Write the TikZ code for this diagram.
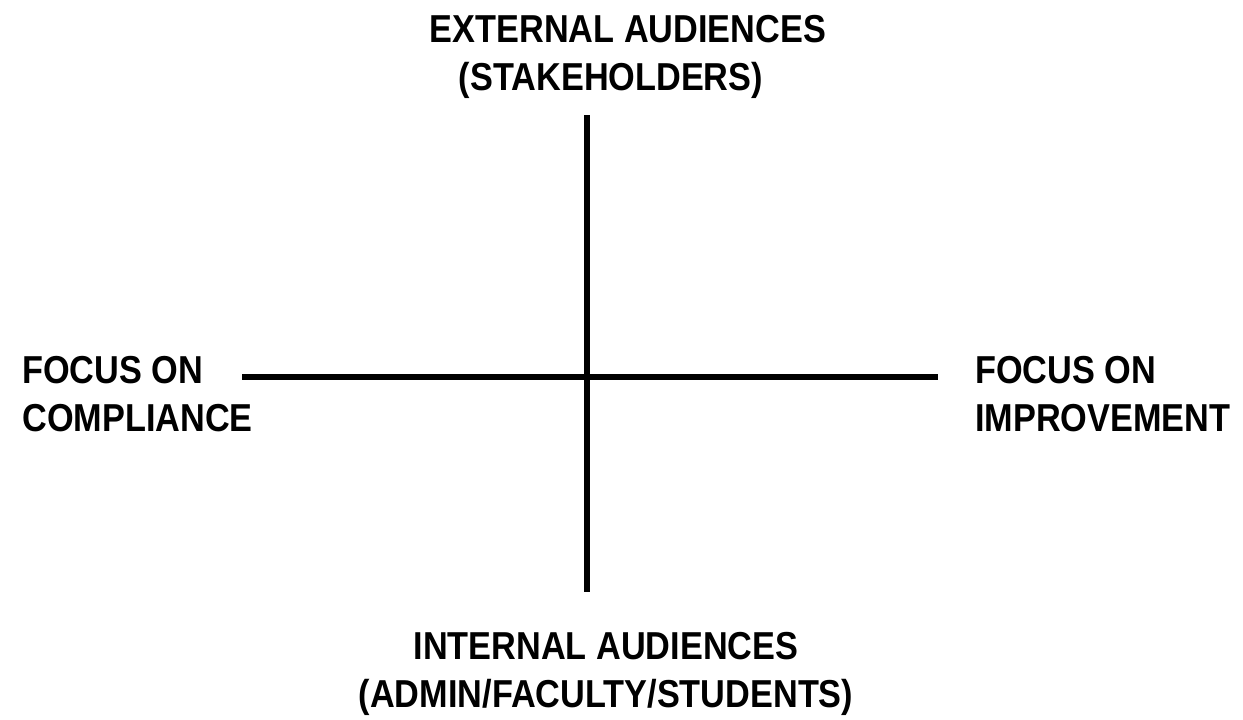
\documentclass[tikz,border=0pt]{standalone}
\usepackage{fontspec}
\setmainfont{Liberation Sans}[FakeStretch=0.88]
\usetikzlibrary{positioning}

\tikzset{
  axislabel/.style={font=\fontsize{27.7}{34.1}\selectfont\bfseries, inner sep=0pt, align=center},
  axisline/.style={line width=0.16cm, black}
}

\begin{document}
\begin{tikzpicture}[x=0.025cm, y=-0.025cm]
            \useasboundingbox (0,0) rectangle (1243,719);

            % Axis ends
            \coordinate (top) at (587,115);
            \coordinate (bottom) at (587,592);
            \coordinate (left) at (242,377);
            \coordinate (right) at (938,377);

            % Labels
            \node[axislabel, anchor=north] (ext) at (628,15) {EXTERNAL AUDIENCES\\(STAKEHOLDERS)\hspace*{0.85cm}}; % stakeholders
            \node[axislabel, anchor=north] (int) at (606,632) {INTERNAL AUDIENCES\\(ADMIN/FACULTY/STUDENTS)};
            \node[axislabel, align=left, anchor=north west] (comp) at (22,356) {FOCUS ON\\COMPLIANCE};
            \node[axislabel, align=left, anchor=north west] (impr) at (975,356) {FOCUS ON\\IMPROVEMENT};

            % Axes
            \draw[axisline] (top) -- (bottom);
            \draw[axisline] (left) -- (right);
        \end{tikzpicture}
\end{document}
